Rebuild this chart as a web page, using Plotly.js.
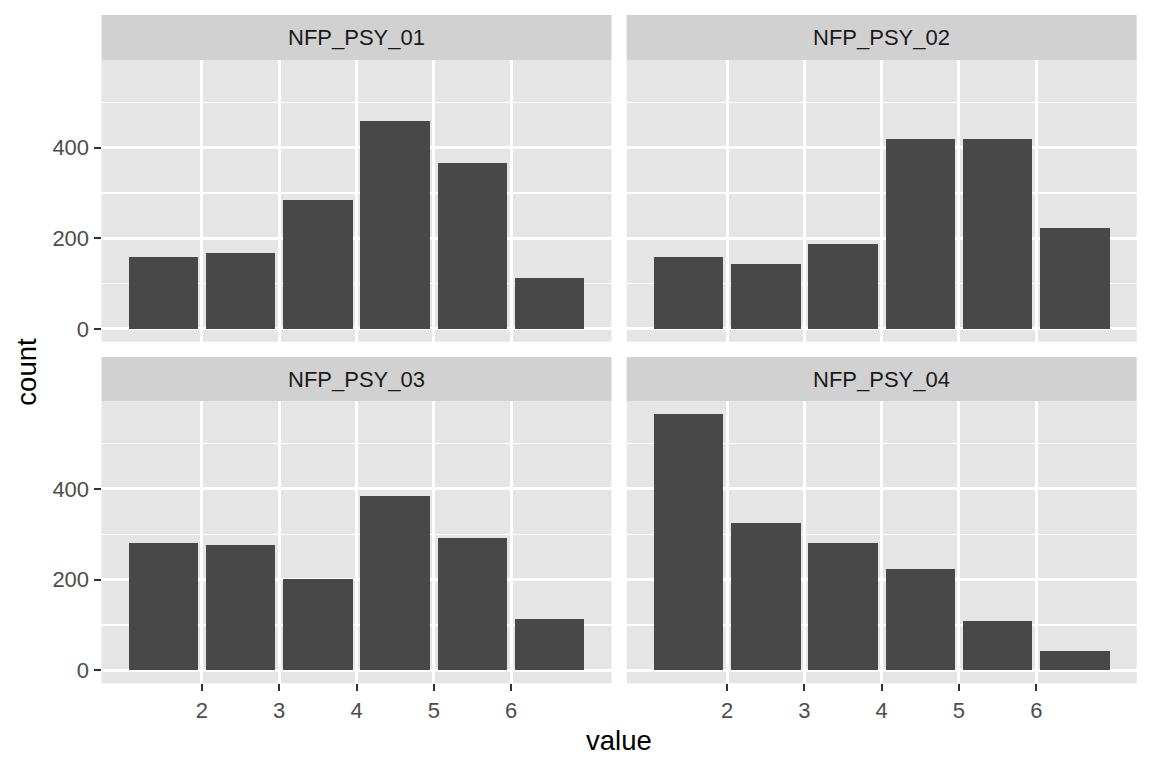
<!DOCTYPE html>
<html>
<head>
<meta charset="utf-8">
<script src="https://cdn.plot.ly/plotly-3.0.1.min.js"></script>
<style>
  html, body { margin: 0; padding: 0; background: #ffffff; }
  #chart { width: 1152px; height: 768px; }
</style>
</head>
<body>
<div id="chart"></div>
<script>
// ---- data ----
const binCenters = [1.5, 2.5, 3.5, 4.5, 5.5, 6.5];
const panelNames = ["NFP_PSY_01", "NFP_PSY_02", "NFP_PSY_03", "NFP_PSY_04"];
const countsPSY01 = [158, 168, 285, 458, 367, 113];
const countsPSY02 = [158, 144, 188, 418, 418, 223];
const countsPSY03 = [280, 276, 201, 384, 293, 113];
const countsPSY04 = [565, 324, 280, 223, 108, 44];
const xTickVals = [2, 3, 4, 5, 6];
const yTickVals = [0, 200, 400];

const seriesList = [countsPSY01, countsPSY02, countsPSY03, countsPSY04];

// ---- layout geometry (pixels -> paper) ----
const W = 1152, H = 768;
const colPx = [[101.5, 611.5], [626.7, 1136.7]];
const rowPx = [[60, 341.7], [401.3, 683.3]];       // plot areas (top, bottom) in px from top
const stripPx = [[15, 60], [357, 401.3]];
const px2x = p => p / W;
const py2y = p => 1 - p / H;

const FONT = "Liberation Sans, Arial, Helvetica, sans-serif";
const allMax = Math.max(...seriesList.flat());
const yRange = [-0.05 * allMax, 1.05 * allMax];
const xRange = [0.7, 7.3];

const traces = [];
const layout = {
  width: W, height: H,
  margin: {l: 0, r: 0, t: 0, b: 0},
  paper_bgcolor: "#ffffff",
  plot_bgcolor: "#E5E5E5",
  showlegend: false,
  bargap: 0,
  font: {family: FONT, size: 22, color: "#4D4D4D"},
  shapes: [],
  annotations: []
};

panelNames.forEach((name, i) => {
  const r = Math.floor(i / 2), c = i % 2;
  const sfx = i === 0 ? "" : String(i + 1);
  traces.push({
    type: "bar",
    x: binCenters,
    y: seriesList[i],
    width: 0.9,
    marker: {color: "#484848", line: {width: 0}},
    xaxis: "x" + sfx,
    yaxis: "y" + sfx,
    hoverinfo: "x+y"
  });
  const showX = r === 1, showY = c === 0;
  layout["xaxis" + sfx] = {
    domain: [px2x(colPx[c][0]), px2x(colPx[c][1])],
    anchor: "y" + sfx,
    range: xRange,
    tickmode: "array",
    tickvals: xTickVals,
    ticktext: xTickVals.map(String),
    showticklabels: showX,
    ticks: showX ? "outside" : "",
    ticklen: 7, tickwidth: 2, tickcolor: "#333333",
    tickfont: {family: FONT, size: 22, color: "#4D4D4D"},
    showgrid: true, gridcolor: "#ffffff", gridwidth: 3,
    zeroline: false, showline: false, fixedrange: true
  };
  layout["yaxis" + sfx] = {
    domain: [py2y(rowPx[r][1]), py2y(rowPx[r][0])],
    anchor: "x" + sfx,
    range: yRange,
    tickmode: "array",
    tickvals: yTickVals,
    ticktext: yTickVals.map(String),
    showticklabels: showY,
    ticks: showY ? "outside" : "",
    ticklen: 7, tickwidth: 2, tickcolor: "#333333",
    tickfont: {family: FONT, size: 22, color: "#4D4D4D"},
    showgrid: true, gridcolor: "#ffffff", gridwidth: 3,
    minor: {tickmode: "array", tickvals: [100, 300, 500], showgrid: true, gridcolor: "#ffffff", gridwidth: 1.5, ticks: ""},
    zeroline: false, showline: false, fixedrange: true
  };
  // strip
  layout.shapes.push({
    type: "rect", xref: "paper", yref: "paper",
    x0: px2x(colPx[c][0]), x1: px2x(colPx[c][1]),
    y0: py2y(stripPx[r][1]), y1: py2y(stripPx[r][0]),
    fillcolor: "#D1D1D1", line: {width: 0}, layer: "below"
  });
  layout.annotations.push({
    xref: "paper", yref: "paper",
    x: px2x((colPx[c][0] + colPx[c][1]) / 2),
    y: py2y((stripPx[r][0] + stripPx[r][1]) / 2),
    text: name, showarrow: false,
    xanchor: "center", yanchor: "middle",
    font: {family: FONT, size: 22, color: "#1A1A1A"}
  });
});

// axis titles (ggplot-style shared titles)
layout.annotations.push({
  xref: "paper", yref: "paper",
  x: px2x((colPx[0][0] + colPx[1][1]) / 2), y: py2y(740),
  text: "value", showarrow: false, xanchor: "center", yanchor: "middle",
  font: {family: FONT, size: 27.5, color: "#000000"}
});
layout.annotations.push({
  xref: "paper", yref: "paper",
  x: px2x(27), y: py2y((rowPx[0][0] + rowPx[1][1]) / 2),
  text: "count", showarrow: false, textangle: -90, xanchor: "center", yanchor: "middle",
  font: {family: FONT, size: 27.5, color: "#000000"}
});

Plotly.newPlot("chart", traces, layout, {displayModeBar: false, staticPlot: true});
</script>
</body>
</html>
